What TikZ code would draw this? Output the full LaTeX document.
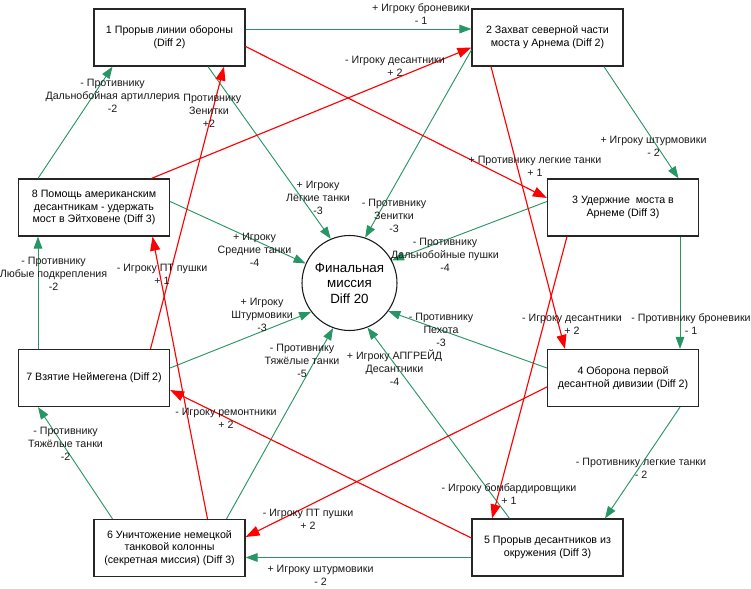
\documentclass[tikz,border=0pt]{standalone}
\usepackage{fontspec}
\setmainfont{Liberation Sans}
\usetikzlibrary{arrows.meta,calc}
\definecolor{gr}{RGB}{40,150,100}
\begin{document}
\begin{tikzpicture}[x=0.75pt,y=-0.75pt,
 box/.style={draw=black!85,fill=white,line width=0.9pt,minimum width=113.25pt,minimum height=42.75pt,inner sep=0pt,align=center,font=\fontsize{8}{9.6}\selectfont},
 lbl/.style={align=center,inner sep=0pt,text=black!90,font=\fontsize{8}{9.75}\selectfont},
 ga/.style={draw=gr,line width=0.7pt,-{Triangle[length=9pt,width=6.5pt,fill=gr]}},
 ra/.style={draw=red,line width=0.85pt,-{Triangle[length=10.5pt,width=7.5pt,fill=red]}}]
\useasboundingbox (0,0) rectangle (751,589);

% boxes
\node[box] (b1) at (169.5,37.5) {1 Прорыв линии обороны\\(Diff 2)};
\node[box] (b2) at (547.5,37.5) {2 Захват северной части\\моста у Арнема (Diff 2)};
\node[box] (b3) at (623,207.5) {3 Удержние~ моста в\\Арнеме (Diff 3)};
\node[box] (b4) at (623,378) {4 Оборона первой\\десантной дивизии (Diff 2)};
\node[box] (b5) at (547.5,547.5) {5 Прорыв десантников из\\окружения (Diff 3)};
\node[box] (b6) at (169.5,548) {6 Уничтожение немецкой\\танковой колонны\\(секретная миссия) (Diff 3)};
\node[box] (b7) at (94,378) {7 Взятие Неймегена (Diff 2)};
\node[box] (b8) at (94,207.5) {8 Помощь американским\\десантникам - удержать\\мост в Эйтховене (Diff 3)};
\node[draw=black!90,line width=0.8pt,circle,minimum size=71.25pt,inner sep=0pt,align=center,font=\fontsize{10}{11.6}\selectfont] (c) at (349.5,283) {Финальная\\миссия\\Diff 20};

% green cycle
\draw[ga] ($(b1.east)+(0,-8.5)$) -- ($(b2.west)+(0,-8.5)$);
\draw[ga] ($(b2.south)+(56.5,0)$) -- ($(b3.north)+(55.5,0)$);
\draw[ga] ($(b3.south)+(57,0)$) -- ($(b4.north)+(57,0)$);
\draw[ga] ($(b4.south)+(57,0)$) -- ($(b5.north)+(57.5,0)$);
\draw[ga] ($(b5.west)+(0,10)$) -- ($(b6.east)+(0,9.5)$);
\draw[ga] ($(b6.north)+(-57,0)$) -- ($(b7.south)+(-56,0)$);
\draw[ga] ($(b7.north)+(-56,0)$) -- ($(b8.south)+(-56,0)$);
\draw[ga] ($(b8.north)+(-56,0)$) -- ($(b1.south)+(-57,0)$);

% green to centre
\draw[ga] ($(b1.south)+(38.5,0)$) -- (c.113);
\draw[ga] ($(b2.west)+(0,12.5)$) -- (c.71);
\draw[ga] ($(b3.west)+(0,-6)$) -- (c.28);
\draw[ga] ($(b4.west)+(0,-10)$) -- (c.-36);
\draw[ga] ($(b5.north)+(-38,0)$) -- (c.-68);
\draw[ga] ($(b6.north)+(57,0)$) -- (c.-110);
\draw[ga] ($(b7.east)+(0,-10)$) -- (c.217);
\draw[ga] ($(b8.east)+(0,-6)$) -- (c.156);

% red
\draw[ra] ($(b1.east)+(0,9)$) -- ($(b3.west)+(0,-9.5)$);
\draw[ra] ($(b2.south)+(-56.5,0)$) -- ($(b4.north)+(-58,0)$);
\draw[ra] ($(b3.south)+(-56,0)$) -- ($(b5.north)+(-55.5,0)$);
\draw[ra] ($(b4.west)+(0,9)$) -- ($(b6.east)+(0,-11)$);
\draw[ra] ($(b5.west)+(0,-9.5)$) -- ($(b7.east)+(0,12)$);
\draw[ra] ($(b6.north)+(38,0)$) -- ($(b8.south)+(58.5,0)$);
\draw[ra] ($(b7.north)+(56.5,0)$) -- ($(b1.south)+(54.5,0)$);
\draw[ra] ($(b8.north)+(57.5,0)$) -- ($(b2.west)+(0,10)$);

% labels
\node[lbl] (l12) at (421,14.5) {+ Игроку броневики\\- 1};
\node[lbl] (l23) at (653.5,146.5) {+ Игроку штурмовики\\- 2};
\node[lbl] (l34) at (691,324.5) {- Противнику броневики\\- 1};
\node[lbl] (l45) at (641,468) {- Противнику легкие танки\\- 2};
\node[lbl] (l56) at (320.5,575) {+ Игроку штурмовики\\- 2};
\node[lbl] (l67) at (65.5,443.5) {- Противнику\\Тяжёлые танки\\-2};
\node[lbl] (l78) at (53.5,273.5) {- Противнику\\Любые подкрепления\\-2};
\node[lbl] (l81) at (112.5,96) {- Противнику\\Дальнобойная артиллерия\\-2};

\node[lbl] (l1c) at (318,198) {+ Игроку\\Лёгкие танки\\-3};
\node[lbl] (l2c) at (394,216) {- Противнику\\Зенитки\\-3};
\node[lbl] (l3c) at (445,254.5) {- Противнику\\Дальнобойные пушки\\-4};
\node[lbl] (l4c) at (441,330) {- Противнику\\Пехота\\-3};
\node[lbl] (l5c) at (394.5,367.5) {+ Игроку АПГРЕЙД\\Десантники\\-4};
\node[lbl] (l6c) at (302,360.5) {- Противнику\\Тяжёлые танки\\-5};
\node[lbl] (l7c) at (262,315) {+ Игроку\\Штурмовики\\-3};
\node[lbl] (l8c) at (254.5,250) {+ Игроку\\Средние танки\\-4};

\node[lbl] (l13) at (535,166) {+ Противнику легкие танки\\+ 1};
\node[lbl] (l24) at (572,324.5) {- Игроку десантники\\+ 2};
\node[lbl] (l35) at (509,494) {- Игроку бомбардировщики\\+ 1};
\node[lbl] (l46) at (308,519) {- Игроку ПТ пушки\\+ 2};
\node[lbl] (l57) at (226,418.5) {- Игроку ремонтники\\+ 2};
\node[lbl] (l68) at (162,274) {- Игроку ПТ пушки\\+ 1};
\node[lbl] (l71) at (209,111) {- Противнику\\Зенитки\\+2};
\node[lbl] (l82) at (395,66) {- Игроку десантники\\+ 2};
\end{tikzpicture}
\end{document}
